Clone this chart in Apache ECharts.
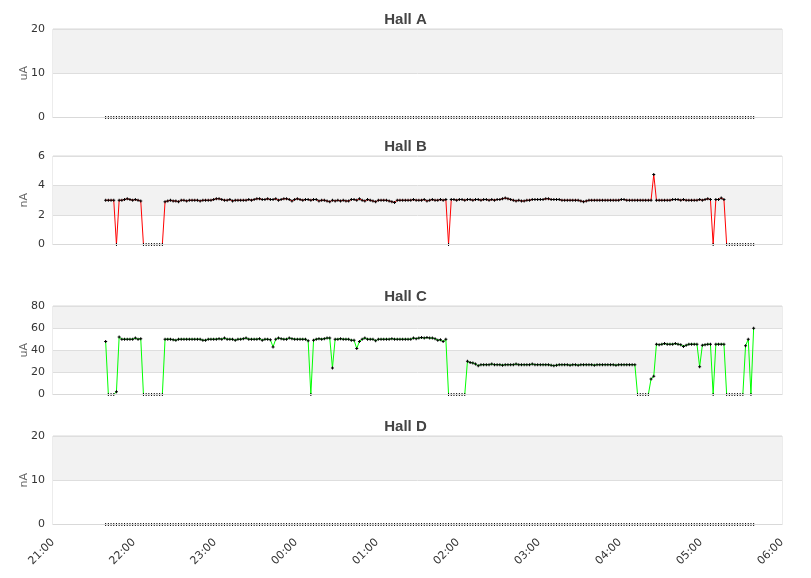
<!DOCTYPE html>
<html>
<head>
<meta charset="utf-8">
<title>Hall currents</title>
<script src="https://cdn.jsdelivr.net/npm/echarts@6/dist/echarts.min.js"></script>
<style>
  html, body { margin: 0; padding: 0; background: #fff; }
  #chart { width: 811px; height: 578px; }
</style>
</head>
<body>
<div id="chart"></div>
<script>
// samples every 2 minutes from 21:39 to 05:39
const startTime = Date.UTC(2015, 0, 1, 21, 39)
const stepMinutes = 2
const axisStart = Date.UTC(2015, 0, 1, 21, 0)
const axisEnd = Date.UTC(2015, 0, 2, 6, 0)

const hallNames = ['Hall A', 'Hall B', 'Hall C', 'Hall D']
const hallUnits = ['uA', 'nA', 'uA', 'nA']
const hallMax = [20, 6, 80, 20]
const hallStep = [10, 2, 20, 10]
const lineColors = ['#0000ff', '#ff0000', '#00ff00', '#0000ff']

const hallA = [
  0,0,0,0,0,0,0,0,0,0,0,0,0,0,0,0,0,0,0,0,
  0,0,0,0,0,0,0,0,0,0,0,0,0,0,0,0,0,0,0,0,
  0,0,0,0,0,0,0,0,0,0,0,0,0,0,0,0,0,0,0,0,
  0,0,0,0,0,0,0,0,0,0,0,0,0,0,0,0,0,0,0,0,
  0,0,0,0,0,0,0,0,0,0,0,0,0,0,0,0,0,0,0,0,
  0,0,0,0,0,0,0,0,0,0,0,0,0,0,0,0,0,0,0,0,
  0,0,0,0,0,0,0,0,0,0,0,0,0,0,0,0,0,0,0,0,
  0,0,0,0,0,0,0,0,0,0,0,0,0,0,0,0,0,0,0,0,
  0,0,0,0,0,0,0,0,0,0,0,0,0,0,0,0,0,0,0,0,
  0,0,0,0,0,0,0,0,0,0,0,0,0,0,0,0,0,0,0,0,
  0,0,0,0,0,0,0,0,0,0,0,0,0,0,0,0,0,0,0,0,
  0,0,0,0,0,0,0,0,0,0,0,0,0,0,0,0,0,0,0,0,
  0
]

const hallB = [
  3.0,3.0,3.0,3.0,0,3.0,3.0,3.05,3.1,3.05,
  3.0,3.05,3.0,2.95,0,0,0,0,0,0,
  0,0,2.9,2.95,3.0,2.95,2.95,2.9,3.0,3.0,
  2.95,3.0,3.0,3.0,3.0,2.95,3.0,3.0,3.0,3.0,
  3.05,3.1,3.1,3.05,3.0,3.0,3.05,2.95,3.0,3.0,
  3.0,3.0,3.0,3.05,3.0,3.05,3.1,3.1,3.05,3.05,
  3.1,3.05,3.05,3.1,3.0,3.05,3.1,3.1,3.05,2.95,
  3.05,3.1,3.05,3.0,3.05,3.05,3.0,3.05,3.05,2.95,
  3.0,3.0,2.95,2.9,3.0,2.95,3.0,2.95,3.0,2.95,
  2.95,3.05,3.05,3.0,3.1,3.0,2.95,3.05,3.0,2.95,
  2.9,3.0,3.0,3.0,3.0,2.95,2.9,2.85,3.0,3.0,
  3.0,3.0,3.0,3.0,3.05,3.0,3.0,3.0,3.05,2.95,
  3.0,3.05,3.0,3.0,3.05,3.0,3.05,0,3.05,3.05,
  3.0,3.05,3.05,3.0,3.05,3.05,3.0,3.05,3.05,3.0,
  3.05,3.05,3.0,3.05,3.0,3.05,3.05,3.1,3.15,3.1,
  3.05,3.0,2.95,3.0,2.95,2.95,3.0,3.0,3.05,3.05,
  3.05,3.05,3.05,3.1,3.1,3.05,3.05,3.05,3.05,3.0,
  3.0,3.0,3.0,3.0,3.0,3.0,2.95,2.9,2.95,3.0,
  3.0,3.0,3.0,3.0,3.0,3.0,3.0,3.0,3.0,3.0,
  3.0,3.05,3.05,3.0,3.0,3.0,3.0,3.0,3.0,3.0,
  3.0,3.0,3.0,4.75,3.0,3.0,3.0,3.0,3.0,3.0,
  3.05,3.05,3.05,3.0,3.05,3.0,3.0,3.0,3.0,3.0,
  3.05,3.0,3.05,3.1,3.05,0,3.05,3.05,3.15,3.05,
  0,0,0,0,0,0,0,0,0,0,
  0
]

const hallC = [
  48,0,0,0,2.5,52,50,50,50,50,
  50,51,50,50.5,0,0,0,0,0,0,
  0,0,50,50,50,49.5,49,50,50,50,
  50,50,50,50,50,50,49,49,50,50,
  50,50,50.5,50,51,50,50,50,49,50,
  50,50.5,51,50,50,50,50,50.5,49,50,
  50,49.5,43,50,51,50.5,50,50,51,50.5,
  50,50,50,50,50,48.5,0,49,50,50.5,
  50,50.5,51,51,24,50,50,50.5,50,50,
  50,49,49,41.5,48,50,51,50,50,50,
  48.5,50,50,50,50,50,50.5,50,50,50,
  50,50,50,50,51,50.5,51,51.5,51,51.5,
  51,51,50.5,49,49.5,48,50,0,0,0,
  0,0,0,0,30,29,28.5,27.5,26,27,
  27,27,27,27.5,27,27,27,26.5,27,27,
  27,27,27.5,27,27,27,27,27,27.5,27,
  27,27,27,27,27,26.5,26,26.5,27,27,
  27,27,26.5,27,27,26.5,27,27,27,27,
  27,26.5,27,27,27,27,27,27,27,26.5,
  27,27,27,27,27,27,27,0,0,0,
  0,0,14,16.5,45.5,45,45.5,46,45.5,45.5,
  45.5,46,45.5,45,43.5,44.5,45.5,45.5,45.5,45.5,
  25,44.5,45,45.5,45.5,0,45.5,45.5,45.5,45.5,
  0,0,0,0,0,0,0,44,50,0,
  60
]

const hallD = [
  0,0,0,0,0,0,0,0,0,0,0,0,0,0,0,0,0,0,0,0,
  0,0,0,0,0,0,0,0,0,0,0,0,0,0,0,0,0,0,0,0,
  0,0,0,0,0,0,0,0,0,0,0,0,0,0,0,0,0,0,0,0,
  0,0,0,0,0,0,0,0,0,0,0,0,0,0,0,0,0,0,0,0,
  0,0,0,0,0,0,0,0,0,0,0,0,0,0,0,0,0,0,0,0,
  0,0,0,0,0,0,0,0,0,0,0,0,0,0,0,0,0,0,0,0,
  0,0,0,0,0,0,0,0,0,0,0,0,0,0,0,0,0,0,0,0,
  0,0,0,0,0,0,0,0,0,0,0,0,0,0,0,0,0,0,0,0,
  0,0,0,0,0,0,0,0,0,0,0,0,0,0,0,0,0,0,0,0,
  0,0,0,0,0,0,0,0,0,0,0,0,0,0,0,0,0,0,0,0,
  0,0,0,0,0,0,0,0,0,0,0,0,0,0,0,0,0,0,0,0,
  0,0,0,0,0,0,0,0,0,0,0,0,0,0,0,0,0,0,0,0,
  0
]

const hallValues = [hallA, hallB, hallC, hallD]
const gridTops = [29, 156, 306, 436]
const titleTops = [12, 139, 289, 419]

const pad = n => (n < 10 ? '0' : '') + n
const hhmm = v => {
  const d = new Date(v)
  return pad(d.getUTCHours()) + ':' + pad(d.getUTCMinutes())
}

const crossSymbol = 'path://M1,0H2V1H3V2H2V3H1V2H0V1H1Z'

const chart = echarts.init(document.getElementById('chart'), null, { renderer: 'canvas' })

const options = {
  animation: false,
  textStyle: { fontFamily: 'DejaVu Sans' },
  title: hallNames.map((name, k) => ({
    text: name,
    left: 'center',
    top: titleTops[k],
    padding: 0,
    textStyle: { fontFamily: 'Liberation Sans', fontSize: 15, fontWeight: 'bold', color: '#444' }
  })),
  // half-pixel height so the zero line sits under the crisp axis line
  grid: gridTops.map(top => ({
    left: 53,
    right: 29,
    top: top,
    height: 88.5,
    show: true,
    borderColor: '#d9d9d9',
    borderWidth: 1,
    backgroundColor: 'transparent'
  })),
  xAxis: gridTops.map((top, k) => ({
    type: 'value',
    gridIndex: k,
    min: axisStart,
    max: axisEnd,
    interval: 3600 * 1000,
    z: 5,
    axisLine: { show: true, lineStyle: { color: '#d9d9d9' } },
    axisTick: { show: false },
    splitLine: { show: false },
    axisLabel: {
      show: k === 3,
      rotate: 45,
      margin: 16,
      fontSize: 11,
      color: '#333',
      formatter: hhmm
    }
  })),
  yAxis: gridTops.map((top, k) => ({
    type: 'value',
    gridIndex: k,
    min: 0,
    max: hallMax[k],
    interval: hallStep[k],
    name: hallUnits[k],
    nameLocation: 'middle',
    nameGap: 23,
    nameMoveOverlap: false,
    nameTextStyle: { color: '#666', fontSize: 11 },
    axisLine: { show: false },
    axisTick: { show: false },
    axisLabel: { fontSize: 11, color: '#333', margin: 8, padding: [4, 0, 0, 0] },
    splitLine: { lineStyle: { color: '#dedede' } },
    splitArea: { show: true, areaStyle: { color: ['#ffffff', '#f2f2f2'] } }
  })),
  series: hallValues.map((vals, k) => ({
    name: hallNames[k],
    type: 'line',
    xAxisIndex: k,
    yAxisIndex: k,
    symbol: crossSymbol,
    symbolSize: 3,
    showAllSymbol: true,
    itemStyle: { color: '#000' },
    lineStyle: { color: lineColors[k], width: 1 },
    data: vals.map((v, i) => [startTime + i * stepMinutes * 60 * 1000, v])
  }))
}

chart.setOption(options)
</script>
</body>
</html>
